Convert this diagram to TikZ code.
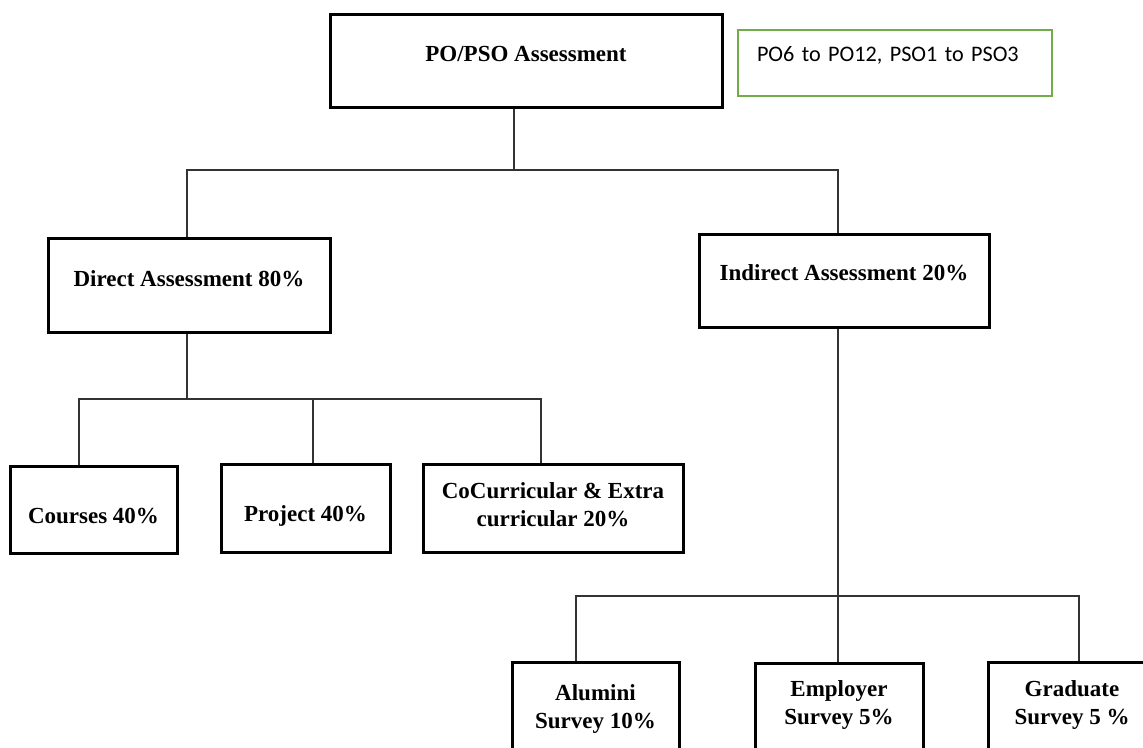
\documentclass[tikz,border=0pt]{standalone}
\usepackage{fontspec}
\setmainfont{Liberation Serif}
\newfontfamily\calibri{Carlito}
\definecolor{boxgreen}{RGB}{112,173,71}
\begin{document}
\begin{tikzpicture}[x=1pt, y=-1pt,
        box/.style = {draw, line width=3pt, inner sep=0pt, align=center, font=\fontsize{23}{28}\selectfont\bfseries},
        link/.style = {line width=1.4pt, draw=black!80}]
    \useasboundingbox (0,0) rectangle (1143,747);
    \clip (0,0) rectangle (1143,747);
    % top level
    \node[box, minimum width=392pt, minimum height=93pt, text height=1pt, text depth=0pt] (po) at (526,60.5) {PO/PSO Assessment};
    \node[draw=boxgreen, line width=2.2pt, inner sep=0pt, minimum width=314pt, minimum height=66pt, text width=276pt, align=left, font=\calibri\fontsize{22.2}{27}\selectfont, text height=0pt, text depth=4pt] (range) at (895,63) {PO6 to PO12, PSO1 to PSO3};
    % second level
    \node[box, minimum width=282pt, minimum height=94pt, text height=2pt, text depth=0pt] (direct) at (189,285) {Direct Assessment 80\%};
    \node[box, minimum width=290pt, minimum height=93pt, text height=0pt, text depth=1pt] (indirect) at (844,280.5) {Indirect Assessment 20\%};
    % direct parts
    \node[box, minimum width=167pt, minimum height=87pt, text height=27pt, text depth=0pt] (courses) at (93.5,509.5) {Courses 40\%};
    \node[box, minimum width=169pt, minimum height=88pt, text height=26pt, text depth=0pt] (project) at (305.5,508) {Project 40\%};
    \node[box, minimum width=260pt, minimum height=88pt, text height=36pt, text depth=0pt] (cocurr) at (553,508) {CoCurricular \& Extra\\curricular 20\%};
    % indirect parts
    \node[box, minimum width=167pt, minimum height=90pt, text height=42pt, text depth=0pt] (alumni) at (595.5,707) {Alumini\\Survey 10\%};
    \node[box, minimum width=168pt, minimum height=90pt, text height=32pt, text depth=0pt] (employer) at (839,708) {Employer\\Survey 5\%};
    \node[box, minimum width=168pt, minimum height=90pt, text height=34pt, text depth=0pt] (graduate) at (1072,707) {Graduate\\Survey 5 \%};
    % joints
    \coordinate (j1) at (514,170);
    \coordinate (j2) at (187,399);
    \coordinate (j3) at (838,596);
    \draw[link] (po.south -| j1) -- (j1);
    \draw[link] ([xshift=-2pt]direct.north) |- (j1) -| ([xshift=-6pt]indirect.north);
    \draw[link] (direct.south -| j2) -- (j2);
    \draw[link] ([xshift=-14.5pt]courses.north) |- (j2) -| ([xshift=-12pt]cocurr.north);
    \draw[link] ([xshift=7.5pt]project.north) |- (j2);
    \draw[link] (indirect.south -| j3) -- (j3);
    \draw[link] ([xshift=-19.5pt]alumni.north) |- (j3) -| ([xshift=7pt]graduate.north);
    \draw[link] ([xshift=-1pt]employer.north) |- (j3);
\end{tikzpicture}
\end{document}
